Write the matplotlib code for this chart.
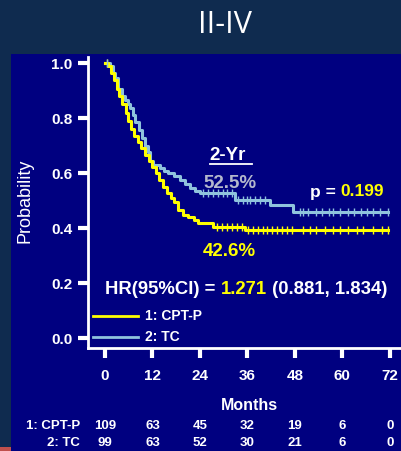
import numpy as np
import matplotlib
matplotlib.use("Agg")
import matplotlib.pyplot as plt
from matplotlib.patches import Rectangle
from matplotlib.transforms import blended_transform_factory

# ---- data ----
yellow_t = [0, 0.8, 1.5, 2.2, 3.0, 3.6, 4.4, 5.2, 5.8, 6.6, 7.4, 8.4, 9.2, 10.1, 11.0,
            11.9, 12.8, 13.6, 14.6, 15.7, 16.6, 17.4, 18.5, 19.6, 21.0, 22.4, 23.5, 27.3, 35.4, 71.6]
yellow_s = [1.0, 0.99, 0.965, 0.94, 0.905, 0.88, 0.85, 0.82, 0.79, 0.76, 0.735, 0.713, 0.69, 0.665, 0.645,
            0.622, 0.6, 0.575, 0.55, 0.527, 0.51, 0.495, 0.465, 0.447, 0.44, 0.43, 0.42, 0.404, 0.393, 0.393]
blue_t = [0, 1.3, 2.0, 2.6, 3.3, 4.2, 5.1, 5.8, 6.4, 7.0, 7.7, 8.5, 9.4, 10.2, 10.9, 11.4, 12.2,
          13.9, 15.0, 15.9, 17.5, 19.0, 20.2, 21.5, 22.8, 24.1, 32.9, 41.8, 47.6, 71.6]
blue_s = [1.0, 0.99, 0.965, 0.945, 0.905, 0.88, 0.865, 0.85, 0.836, 0.81, 0.785, 0.755, 0.727, 0.70,
          0.676, 0.645, 0.63, 0.618, 0.608, 0.60, 0.588, 0.575, 0.56, 0.545, 0.535, 0.527, 0.502, 0.484, 0.458, 0.458]
yellow_cens = [0.4, 28.4, 29.6, 30.9, 32.2, 33.4, 34.7, 36.2, 37.5, 38.7, 40.0, 41.0, 42.3, 43.5, 44.8,
               46.0, 47.3, 50.0, 51.9, 53.2, 55.7, 57.7, 59.5, 61.3, 63.8, 65.3, 67.8, 70.1, 71.6]
blue_cens = [0.6, 24.8, 26.1, 27.3, 28.6, 29.9, 30.9, 32.2, 33.7, 34.9, 35.9, 36.7, 38.0, 39.2, 40.5,
             49.4, 50.1, 51.4, 53.2, 54.9, 56.5, 57.7, 59.5, 61.3, 62.8, 64.6, 66.3, 67.8, 69.6, 71.4]
x_ticks = [0, 12, 24, 36, 48, 60, 72]
y_ticks = [0.0, 0.2, 0.4, 0.6, 0.8, 1.0]
risk_groups = ["1: CPT-P", "2: TC"]
risk_cptp = [109, 63, 45, 32, 19, 6, 0]
risk_tc = [99, 63, 52, 30, 21, 6, 0]

OUTER = "#0f2b4f"
NAVY = "#000080"
YEL = "#ffff00"
BLU = "#8fc3dd"
W = 401
H = 451

plt.rcParams['font.family'] = ['Liberation Sans', 'DejaVu Sans']
NARROW = ['Liberation Sans Narrow', 'Liberation Sans', 'DejaVu Sans']

fig = plt.figure(figsize=(W / 100, H / 100), dpi=100, facecolor=OUTER)
fig.patches.append(Rectangle((11 / W, 0), 1 - 11 / W, 1 - 54 / H, transform=fig.transFigure,
                             facecolor=NAVY, edgecolor='none', zorder=-2))
fig.patches.append(Rectangle((0, 0), 11 / W, 4 / H, transform=fig.transFigure,
                             facecolor="#c0504d", edgecolor='none', zorder=-2))

fig.text(225 / W, 1 - 25 / H, "II-IV", color='white', fontsize=22, fontfamily='Open Sans',
         ha='center', va='center')

ax = fig.add_axes([88 / W, 1 - 348 / H, 1 - 88 / W, (348 - 57) / H])
ax.set_facecolor('none')
ax.set_xlim(-4.3, 74.8)
ax.set_ylim(-0.036, 1.022)
for s in ['top', 'right']:
    ax.spines[s].set_visible(False)
for s in ['left', 'bottom']:
    ax.spines[s].set_color('white')
    ax.spines[s].set_linewidth(2)

ax.set_xticks(x_ticks)
ax.set_yticks(y_ticks)
ax.set_yticklabels([f"{v:.1f}" for v in y_ticks])
ax.tick_params(axis='both', colors='white', length=7, width=3, direction='out', labelsize=11, pad=4)
for lab in ax.get_xticklabels() + ax.get_yticklabels():
    lab.set_fontweight('bold')
ax.tick_params(axis='x', pad=8)

ax.step(yellow_t, yellow_s, where='post', color=YEL, lw=2.2, zorder=3)
ax.step(blue_t, blue_s, where='post', color=BLU, lw=2.2, zorder=2)


def surv_at(t, s, c):
    t = np.asarray(t)
    s = np.asarray(s)
    return s[np.searchsorted(t, c, side='right') - 1]


yc = np.array(yellow_cens)
bc = np.array(blue_cens)
ax.plot(yc, surv_at(yellow_t, yellow_s, yc), ls='none', marker='|', ms=6, mew=1, color=YEL, zorder=4)
ax.plot(bc, surv_at(blue_t, blue_s, bc), ls='none', marker='|', ms=6, mew=1, color=BLU, zorder=4)

fig.text(25 / W, 1 - 201 / H, "Probability", color='white', fontsize=13, rotation=90,
         ha='center', va='center')
fig.text(249 / W, 1 - 405 / H, "Months", color='white', fontsize=11.5, fontweight='bold',
         ha='center', va='center')


def ftext(x, y, s, color='white', size=11, **kw):
    return fig.text(x / W, 1 - y / H, s, color=color, fontsize=size, fontweight='bold',
                    va='center', **kw)


ftext(209, 155, "2-Yr", size=13.5)
fig.add_artist(plt.Line2D([210 / W, 252 / W], [1 - 163.5 / H, 1 - 163.5 / H], color='white', lw=1.3))
ftext(203, 184, "52.5%", color="#b4b8cc", size=13.5)
ftext(203, 251, "42.6%", color=YEL, size=13.5)
p1 = ftext(310, 192, "p = ", size=12.5)
fig.add_artist(plt.Annotation("0.199", xy=(1, 0), xycoords=p1, color=YEL, fontsize=12.5,
                              fontweight='bold', va='bottom', ha='left'))
h1 = ftext(105, 290, "HR(95%CI) = ", size=13.3)
h2 = plt.Annotation("1.271", xy=(1, 0), xycoords=h1, color=YEL, fontsize=13.3, fontweight='bold',
                    va='bottom', ha='left')
fig.add_artist(h2)
fig.add_artist(plt.Annotation(" (0.881, 1.834)", xy=(1, 0), xycoords=h2, color='white', fontsize=13.3,
                              fontweight='bold', va='bottom', ha='left'))

# legend
fig.add_artist(plt.Line2D([93 / W, 138 / W], [1 - 316 / H] * 2, color=YEL, lw=2))
fig.add_artist(plt.Line2D([93 / W, 138 / W], [1 - 337 / H] * 2, color=BLU, lw=2))
ftext(145, 316, "1: CPT-P", size=10)
ftext(145, 337, "2: TC", size=10)

# risk table
tr = blended_transform_factory(ax.transData, fig.transFigure)
for row_y, name, vals in [(426, risk_groups[0], risk_cptp), (443.5, risk_groups[1], risk_tc)]:
    fig.text(80 / W, 1 - row_y / H, name, color='white', fontsize=9.5, fontweight='bold',
             family=NARROW, ha='right', va='center')
    for xv, v in zip(x_ticks, vals):
        ax.text(xv, 1 - row_y / H, str(v), transform=tr, color='white', fontsize=9.5,
                fontweight='bold', family=NARROW, ha='center', va='center', clip_on=False)

fig.savefig("out.png", dpi=100, facecolor=OUTER)
